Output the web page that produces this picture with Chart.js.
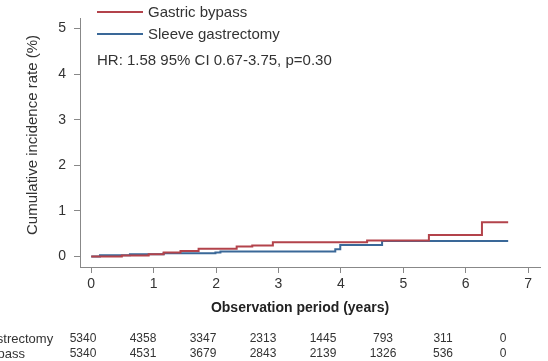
<!DOCTYPE html>
<html>
<head>
<meta charset="utf-8">
<script src="https://cdn.jsdelivr.net/npm/chart.js@4/dist/chart.umd.min.js"></script>
<style>
  html, body { margin: 0; padding: 0; background: #fff; }
</style>
</head>
<body>
<canvas id="chart" width="548" height="361"></canvas>
<script>
// step curves (time in years, cumulative incidence in %)
const bypassTimes  = [0, 0.49, 0.92, 1.16, 1.43, 1.72, 2.33, 2.58, 2.91, 4.42, 5.41, 6.26, 6.68];
const bypassValues = [0, 0.02, 0.05, 0.09, 0.12, 0.17, 0.22, 0.24, 0.31, 0.35, 0.47, 0.75, 0.75];
const sleeveTimes  = [0, 0.14, 0.62, 1.16, 1.99, 2.07, 3.91, 3.99, 4.66, 6.68];
const sleeveValues = [0, 0.03, 0.05, 0.07, 0.09, 0.11, 0.16, 0.25, 0.34, 0.34];

const xTicks = [0, 1, 2, 3, 4, 5, 6, 7];
const yTicks = [0, 1, 2, 3, 4, 5];

// numbers at risk
const riskLabels = ["Sleeve gastrectomy", "Gastric bypass"];
const sleeveAtRisk = [5340, 4358, 3347, 2313, 1445, 793, 311, 0];
const bypassAtRisk = [5340, 4531, 3679, 2843, 2139, 1326, 536, 0];

const hrText = "HR: 1.58 95% CI 0.67-3.75, p=0.30";

const RED = "#b3434b";
const BLUE = "#3a6898";
const FONT = "'Liberation Sans', Arial, sans-serif";

function toPoints(times, values) {
    return times.map((t, i) => ({ x: t, y: values[i] }));
}

// legend, axis titles, risk table
const extras = {
    id: "extras",
    afterDraw(chart) {
        const ctx = chart.ctx;
        ctx.save();
        ctx.textBaseline = "middle";

        // legend
        [[RED, "Gastric bypass", 12], [BLUE, "Sleeve gastrectomy", 34]].forEach(([col, txt, y]) => {
            ctx.strokeStyle = col;
            ctx.lineWidth = 2;
            ctx.beginPath();
            ctx.moveTo(97, y);
            ctx.lineTo(143, y);
            ctx.stroke();
            ctx.fillStyle = "#333";
            ctx.font = "15px " + FONT;
            ctx.textAlign = "left";
            ctx.fillText(txt, 148, y + 1);
        });
        ctx.fillText(hrText, 97, 61);

        // x title
        ctx.font = "bold 14px " + FONT;
        ctx.textAlign = "center";
        ctx.fillStyle = "#222";
        ctx.fillText("Observation period (years)", 300, 308);

        // y title
        ctx.save();
        ctx.translate(33, 135);
        ctx.rotate(-Math.PI / 2);
        ctx.font = "15px " + FONT;
        ctx.fillStyle = "#333";
        ctx.fillText("Cumulative incidence rate (%)", 0, 0);
        ctx.restore();

        // numbers at risk
        const rowY = [339, 354];
        ctx.font = "13px " + FONT;
        ctx.fillStyle = "#333";
        ctx.textAlign = "left";
        riskLabels.forEach((lab, r) => ctx.fillText(lab, -61, rowY[r]));
        ctx.font = "12px " + FONT;
        ctx.textAlign = "center";
        [sleeveAtRisk, bypassAtRisk].forEach((row, r) => {
            row.forEach((n, i) => {
                ctx.fillText(String(n), 83 + i * 60, rowY[r]);
            });
        });
        ctx.restore();
    }
};

new Chart(document.getElementById("chart"), {
    type: "line",
    data: {
        datasets: [
            {
                label: "Gastric bypass",
                data: toPoints(bypassTimes, bypassValues),
                borderColor: RED,
                borderWidth: 2,
                pointRadius: 0,
                stepped: "before",
                fill: false
            },
            {
                label: "Sleeve gastrectomy",
                data: toPoints(sleeveTimes, sleeveValues),
                borderColor: BLUE,
                borderWidth: 2,
                pointRadius: 0,
                stepped: "before",
                fill: false
            }
        ]
    },
    options: {
        responsive: false,
        animation: false,
        devicePixelRatio: 1,
        layout: { padding: { top: 18, right: 8, left: 0, bottom: 0 } },
        plugins: {
            legend: { display: false },
            tooltip: { enabled: false }
        },
        scales: {
            x: {
                type: "linear",
                min: -0.18,
                max: 7.19,
                afterBuildTicks: s => { s.ticks = xTicks.map(v => ({ value: v })); },
                afterFit: s => { s.height = 94; },
                grid: { drawOnChartArea: false, drawTicks: true, tickLength: 6, color: "#888" },
                border: { display: true, color: "#888", width: 1 },
                ticks: { color: "#333", font: { family: FONT, size: 14 }, padding: 3, maxRotation: 0, autoSkip: false }
            },
            y: {
                type: "linear",
                min: -0.23,
                max: 5.23,
                afterBuildTicks: s => { s.ticks = yTicks.map(v => ({ value: v })); },
                afterFit: s => { s.width = 80; },
                grid: { drawOnChartArea: false, drawTicks: true, tickLength: 6, color: "#888" },
                border: { display: true, color: "#888", width: 1 },
                ticks: { color: "#333", font: { family: FONT, size: 14 }, padding: 8 }
            }
        }
    },
    plugins: [extras]
});
</script>
</body>
</html>
